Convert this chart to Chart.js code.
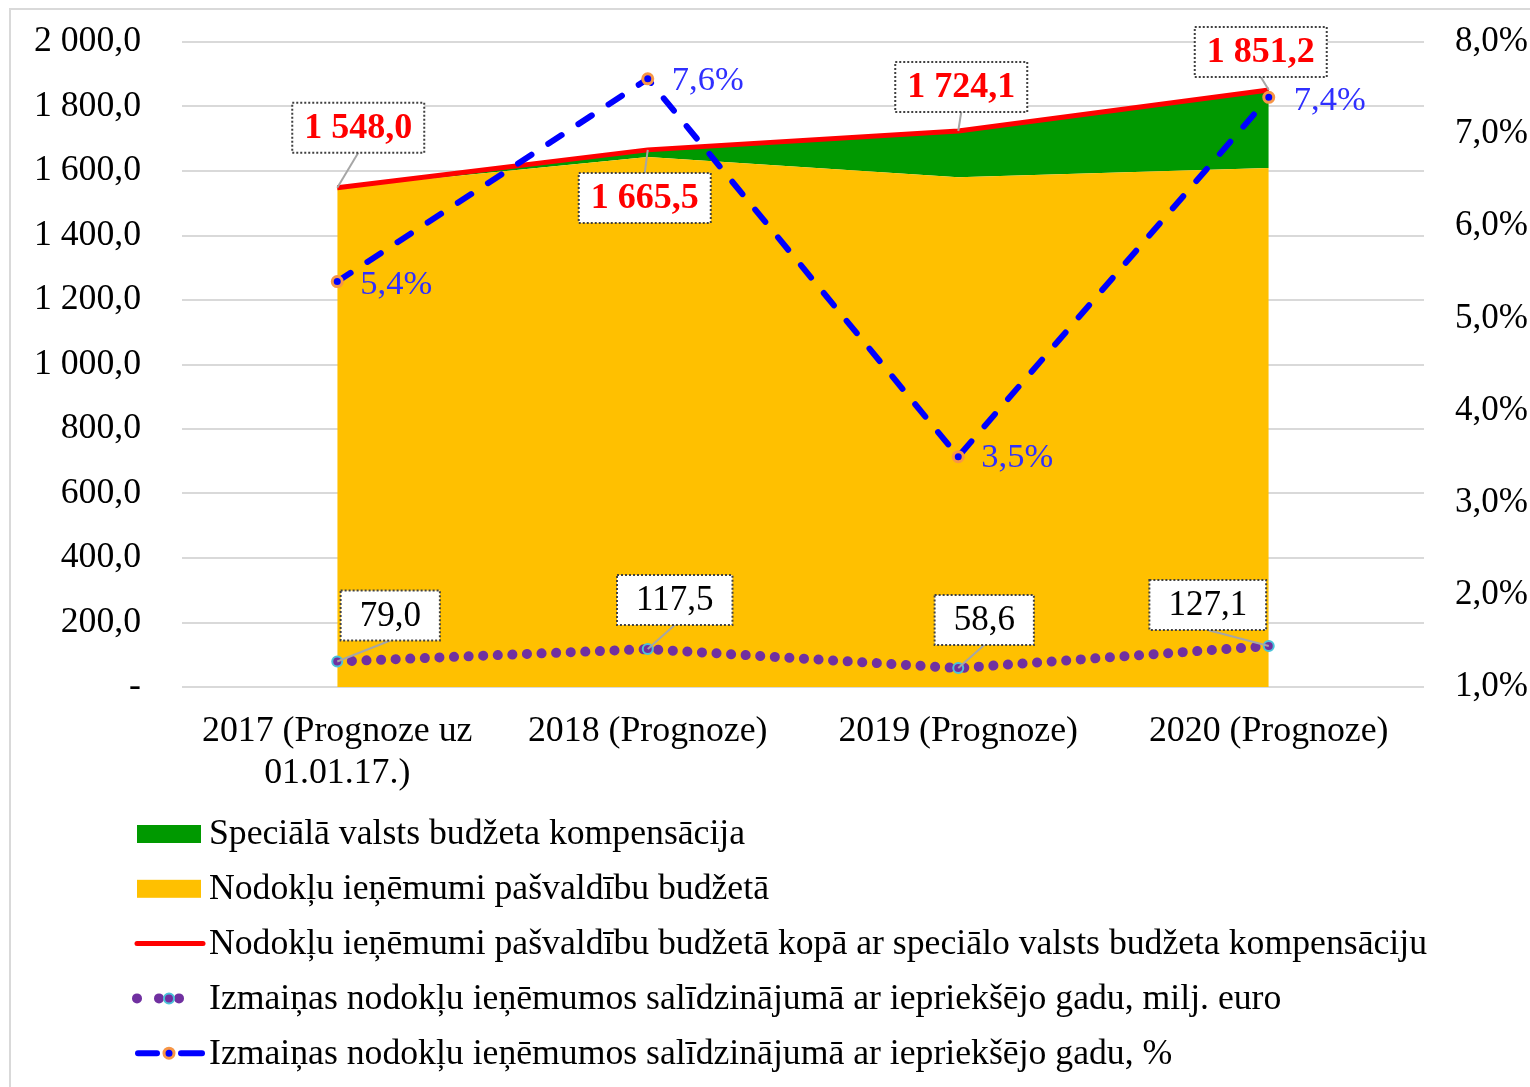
<!DOCTYPE html>
<html>
<head>
<meta charset="utf-8">
<script src="https://cdn.jsdelivr.net/npm/chart.js@4.4.1/dist/chart.umd.min.js"></script>
<style>
  html, body { margin: 0; padding: 0; background: #fff; }
  #frame { position: absolute; left: 9px; top: 8px; width: 1600px; height: 1200px; border: 2px solid #d9d9d9; }
  #chart { position: absolute; left: 0; top: 0; }
</style>
</head>
<body>
<div id="frame"></div>
<canvas id="chart" width="1530" height="1087"></canvas>
<script>
const categories = [['2017 (Prognoze uz', '01.01.17.)'], '2018 (Prognoze)', '2019 (Prognoze)', '2020 (Prognoze)'];
const taxRevenue = [1548.0, 1643.5, 1581.0, 1609.0];
const compensation = [0, 22.0, 143.1, 242.2];
const totalRevenue = [1548.0, 1665.5, 1724.1, 1851.2];
const changeEur = [79.0, 117.5, 58.6, 127.1];
const changePct = [5.4, 7.6, 3.5, 7.4];
const leftTicks = [0, 200, 400, 600, 800, 1000, 1200, 1400, 1600, 1800, 2000];
const rightTicks = [1, 2, 3, 4, 5, 6, 7, 8];

const FONT = "'Liberation Serif', 'Times New Roman', serif";
Chart.defaults.font.family = FONT;
Chart.defaults.color = '#000';

function fmt(v) {
    if (v === 0) return '-';
    const parts = v.toFixed(1).split('.');
    return parts[0].replace(/\B(?=(\d{3})+(?!\d))/g, ' ') + ',' + parts[1];
}
function fmtPct(v) {
    return v.toFixed(1).replace('.', ',') + '%';
}

// where each data label sits, relative to its point (px)
const labelOffsets = {
    total: [[21, -60], [-3, 48], [3, -44], [-8, -38]],
    chg: [[53, -46], [27, -49], [26, -48], [-61, -41]],
    pct: [[23, 3], [24, 2], [23, 1], [25, 4]]
};

const labelsPlugin = {
    id: 'boxLabels',
    afterDatasetsDraw(chart) {
        const ctx = chart.ctx;
        ctx.save();
        chart.data.datasets.forEach((ds, i) => {
            if (!ds.labelKind) return;
            const meta = chart.getDatasetMeta(i);
            meta.data.forEach((pt, j) => {
                const off = labelOffsets[ds.labelKind][j];
                const text = ds.labelKind === 'pct' ? fmtPct(ds.data[j]) : fmt(ds.data[j]);
                if (ds.labelKind === 'pct') {
                    ctx.font = '34.5px ' + FONT;
                    ctx.fillStyle = '#2f2fff';
                    ctx.textAlign = 'left';
                    ctx.textBaseline = 'middle';
                    ctx.fillText(text, pt.x + off[0], pt.y + off[1]);
                    return;
                }
                const bold = ds.labelKind === 'total';
                ctx.font = (bold ? 'bold 36px ' : '35px ') + FONT;
                const tw = ctx.measureText(text).width;
                const w = tw + (bold ? 24 : 38);
                const h = 50;
                const cx = pt.x + off[0], cy = pt.y + off[1];
                const edgeY = pt.y > cy ? cy + h / 2 : cy - h / 2;
                ctx.strokeStyle = '#a6a6a6';
                ctx.lineWidth = 2;
                ctx.setLineDash([]);
                ctx.beginPath();
                ctx.moveTo(pt.x, pt.y);
                ctx.lineTo(cx, edgeY);
                ctx.stroke();
                ctx.fillStyle = '#fff';
                ctx.fillRect(cx - w / 2, cy - h / 2, w, h);
                ctx.strokeStyle = '#404040';
                ctx.lineWidth = 2;
                ctx.setLineDash([2, 2]);
                ctx.strokeRect(cx - w / 2, cy - h / 2, w, h);
                ctx.setLineDash([]);
                ctx.fillStyle = bold ? '#ff0000' : '#000';
                ctx.textAlign = 'center';
                ctx.textBaseline = 'middle';
                ctx.fillText(text, cx, cy + 1);
            });
        });
        ctx.restore();
    }
};

const legendOrder = [1, 0, 2, 3, 4];
const legendPlugin = {
    id: 'rowLegend',
    afterDraw(chart) {
        const ctx = chart.ctx;
        ctx.save();
        legendOrder.forEach((di, row) => {
            const ds = chart.data.datasets[di];
            const y = 834 + row * 54.8;
            const x0 = 135, x1 = 203, xm = 169;
            ctx.setLineDash([]);
            if (ds.legendKind === 'box') {
                ctx.fillStyle = ds.backgroundColor;
                ctx.fillRect(x0 + 2, y - 9, x1 - x0 - 4, 18);
            } else if (ds.legendKind === 'line') {
                ctx.strokeStyle = ds.borderColor;
                ctx.lineWidth = ds.borderWidth;
                ctx.lineCap = 'round';
                ctx.beginPath(); ctx.moveTo(x0 + 2, y); ctx.lineTo(x1, y); ctx.stroke();
            } else if (ds.legendKind === 'dots') {
                ctx.fillStyle = ds.borderColor;
                [137, 159, 179].forEach(x => {
                    ctx.beginPath(); ctx.arc(x, y, 5, 0, Math.PI * 2); ctx.fill();
                });
                ctx.beginPath(); ctx.arc(xm, y, ds.pointRadius, 0, Math.PI * 2);
                ctx.fillStyle = ds.pointBackgroundColor; ctx.fill();
                ctx.lineWidth = ds.pointBorderWidth; ctx.strokeStyle = ds.pointBorderColor; ctx.stroke();
            } else if (ds.legendKind === 'dash') {
                ctx.strokeStyle = ds.borderColor;
                ctx.lineWidth = ds.borderWidth;
                ctx.lineCap = 'round';
                ctx.beginPath(); ctx.moveTo(x0 + 3, y); ctx.lineTo(157, y); ctx.stroke();
                ctx.beginPath(); ctx.moveTo(181, y); ctx.lineTo(x1 - 1, y); ctx.stroke();
                ctx.beginPath(); ctx.arc(xm, y, ds.pointRadius, 0, Math.PI * 2);
                ctx.fillStyle = ds.pointBackgroundColor; ctx.fill();
                ctx.lineWidth = ds.pointBorderWidth; ctx.strokeStyle = ds.pointBorderColor; ctx.stroke();
            }
            ctx.fillStyle = '#000';
            ctx.font = '35.7px ' + FONT;
            ctx.textAlign = 'left';
            ctx.textBaseline = 'middle';
            ctx.fillText(ds.label, 209, y + 1);
        });
        ctx.restore();
    }
};

new Chart(document.getElementById('chart'), {
    type: 'line',
    data: {
        labels: categories,
        datasets: [
            {
                label: 'Nodokļu ieņēmumi pašvaldību budžetā',
                data: taxRevenue,
                stack: 'area',
                fill: 'origin',
                backgroundColor: '#ffc000',
                borderColor: '#ffc000',
                borderWidth: 0,
                pointRadius: 0,
                order: 4,
                legendKind: 'box'
            },
            {
                label: 'Speciālā valsts budžeta kompensācija',
                data: compensation,
                stack: 'area',
                fill: '-1',
                backgroundColor: '#009900',
                borderColor: '#009900',
                borderWidth: 0,
                pointRadius: 0,
                order: 5,
                legendKind: 'box'
            },
            {
                label: 'Nodokļu ieņēmumi pašvaldību budžetā kopā ar speciālo valsts budžeta kompensāciju',
                data: totalRevenue,
                stack: 'total',
                fill: false,
                borderColor: '#ff0000',
                borderWidth: 5,
                pointRadius: 0,
                order: 3,
                legendKind: 'line',
                labelKind: 'total'
            },
            {
                label: 'Izmaiņas nodokļu ieņēmumos salīdzinājumā ar iepriekšējo gadu, milj. euro',
                data: changeEur,
                stack: 'chg',
                fill: false,
                borderColor: '#7030a0',
                borderWidth: 10,
                borderDash: [0.1, 14.5],
                borderCapStyle: 'round',
                pointRadius: 5,
                pointBackgroundColor: '#7030a0',
                pointBorderColor: '#4bc3d9',
                pointBorderWidth: 2,
                order: 1,
                legendKind: 'dots',
                labelKind: 'chg'
            },
            {
                label: 'Izmaiņas nodokļu ieņēmumos salīdzinājumā ar iepriekšējo gadu, %',
                data: changePct,
                yAxisID: 'y1',
                fill: false,
                borderColor: '#0000ff',
                borderWidth: 6,
                borderDash: [16, 20],
                borderCapStyle: 'round',
                pointRadius: 5,
                pointBackgroundColor: '#0000ff',
                pointBorderColor: '#f79646',
                pointBorderWidth: 3,
                order: 2,
                legendKind: 'dash',
                labelKind: 'pct'
            }
        ]
    },
    options: {
        responsive: false,
        animation: false,
        layout: { padding: { top: 42, left: 0, right: 0, bottom: 0 } },
        plugins: {
            legend: { display: false },
            tooltip: { enabled: false }
        },
        scales: {
            x: {
                offset: true,
                grid: { display: false, drawTicks: false },
                border: { display: false },
                ticks: { color: '#000', font: { size: 35.8, lineHeight: 1.17 }, padding: 24, maxRotation: 0, autoSkip: false },
                afterFit: s => { s.height = 400; }
            },
            y: {
                stacked: true,
                min: 0,
                max: 2000,
                afterBuildTicks: s => { s.ticks = leftTicks.map(v => ({ value: v })); },
                ticks: { callback: v => fmt(v), padding: 41, color: '#000', font: { size: 35.7 } },
                grid: { color: '#d9d9d9', lineWidth: 2, drawTicks: false },
                border: { display: false },
                afterFit: s => { s.width = 182; s.paddingTop = 0; s.paddingBottom = 0; }
            },
            y1: {
                position: 'right',
                min: 1,
                max: 8,
                afterBuildTicks: s => { s.ticks = rightTicks.map(v => ({ value: v })); },
                ticks: { callback: v => fmtPct(v), padding: 31, color: '#000', font: { size: 35 } },
                grid: { display: false, drawTicks: false },
                border: { display: false },
                afterFit: s => { s.width = 106; s.paddingTop = 0; s.paddingBottom = 0; }
            }
        }
    },
    plugins: [labelsPlugin, legendPlugin]
});
</script>
</body>
</html>
